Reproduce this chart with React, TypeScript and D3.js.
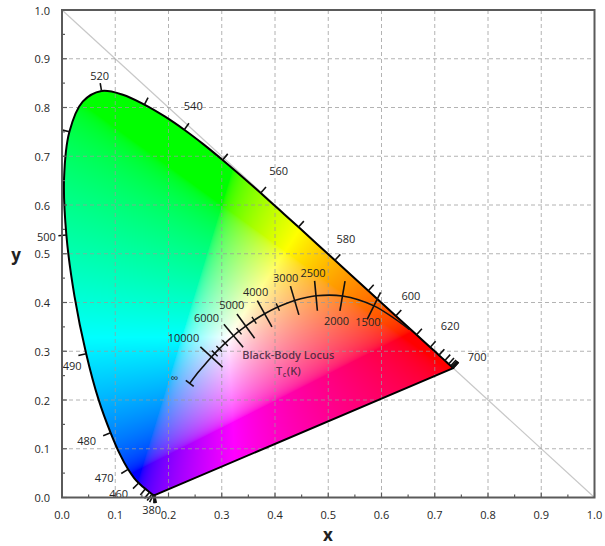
import React, { useMemo } from 'react';
import * as d3 from 'd3';

// CIE 1931 spectral locus (5 nm steps)
const WAVELENGTHS = [380,385,390,395,400,405,410,415,420,425,430,435,440,445,450,455,460,465,470,475,480,485,490,495,500,505,510,515,520,525,530,535,540,545,550,555,560,565,570,575,580,585,590,595,600,605,610,615,620,625,630,635,640,645,650,655,660,665,670,675,680,685,690,695,700];
const LOCUS_X = [0.1741,0.1740,0.1738,0.1736,0.1733,0.1730,0.1726,0.1721,0.1714,0.1703,0.1689,0.1669,0.1644,0.1611,0.1566,0.1510,0.1440,0.1355,0.1241,0.1096,0.0913,0.0687,0.0454,0.0235,0.0082,0.0039,0.0139,0.0389,0.0743,0.1142,0.1547,0.1929,0.2296,0.2658,0.3016,0.3373,0.3731,0.4087,0.4441,0.4788,0.5125,0.5448,0.5752,0.6029,0.6270,0.6482,0.6658,0.6801,0.6915,0.7006,0.7079,0.7140,0.7190,0.7230,0.7260,0.7283,0.7300,0.7311,0.7320,0.7327,0.7334,0.7340,0.7344,0.7346,0.7347];
const LOCUS_Y = [0.0050,0.0050,0.0049,0.0049,0.0048,0.0048,0.0048,0.0048,0.0051,0.0058,0.0069,0.0086,0.0109,0.0138,0.0177,0.0227,0.0297,0.0399,0.0578,0.0868,0.1327,0.2007,0.2950,0.4127,0.5384,0.6548,0.7502,0.8120,0.8338,0.8262,0.8059,0.7816,0.7543,0.7243,0.6923,0.6589,0.6245,0.5896,0.5547,0.5202,0.4866,0.4544,0.4242,0.3965,0.3725,0.3514,0.3340,0.3197,0.3083,0.2993,0.2920,0.2859,0.2809,0.2770,0.2740,0.2717,0.2700,0.2689,0.2680,0.2673,0.2666,0.2660,0.2656,0.2654,0.2653];

const TICK_WL = [380,390,400,410,420,430,440,450,460,470,480,490,500,510,520,530,540,550,560,570,580,590,600,610,620,630,640,650,660,670,680,690,700];
const LABELED_WL = [380,460,470,480,490,500,520,540,560,580,600,620,700];

// Planckian locus
const BB_TEMPS = [1000,1500,2000,2500,3000,3500,4000,4500,5000,5500,6000,6500,7000,7500,8000,9000,10000,12000,15000,20000,Infinity];
const BB_X = [0.6527,0.5857,0.5267,0.4770,0.4369,0.4053,0.3805,0.3608,0.3451,0.3325,0.3221,0.3135,0.3064,0.3004,0.2952,0.2869,0.2807,0.2719,0.2637,0.2565,0.2399];
const BB_Y = [0.3445,0.3931,0.4133,0.4137,0.4041,0.3907,0.3768,0.3636,0.3516,0.3411,0.3318,0.3237,0.3166,0.3103,0.3048,0.2956,0.2883,0.2776,0.2670,0.2577,0.2341];
const BB_MAJOR = [1500,2000,2500,3000,4000,5000,6000,10000];
const BB_MINOR = [3500,4500,5500,7000,8000,9000];
const BB_LABELS = ['1500','2000','2500','3000','4000','5000','6000','10000','∞'];
const BB_LABEL_TEMPS = [1500,2000,2500,3000,4000,5000,6000,10000,Infinity];

const AXIS_TICKS = [0,0.1,0.2,0.3,0.4,0.5,0.6,0.7,0.8,0.9,1.0];
const AXIS_LABELS = ['0.0','0.1','0.2','0.3','0.4','0.5','0.6','0.7','0.8','0.9','1.0'];
const MINOR_TICKS = [0.05,0.15,0.25,0.35,0.45,0.55,0.65,0.75,0.85,0.95];

// label offsets in px (style)
const WL_LABEL_OFFSET: Record<number, [number, number]> = {
  380: [-3, 14], 460: [-20, 10], 470: [-24, 8], 480: [-24, 8], 490: [-14, 12], 500: [-20, 1],
  520: [-2, -16], 540: [9, -24], 560: [18, -23], 580: [11, -22], 600: [15, -20], 620: [20, -22], 700: [24, -12],
};
const BB_LABEL_OFFSET: [number, number][] = [
  [-6, 16], [-6, 24], [-3, -23], [-9, -23], [-9, -22], [-14, -22], [-27, -18], [-28, -19], [-15, -6],
];

const W = 605, H = 546;
const xScale = d3.scaleLinear().domain([0, 1]).range([62, 594.5]);
const yScale = d3.scaleLinear().domain([0, 1]).range([497.5, 10]);
const FONT = '"Open Sans", "Noto Sans", sans-serif';
const LABEL_FILL = '#262626';

function gamma(c: number) {
  return c <= 0.0031308 ? 12.92 * c : 1.055 * Math.pow(c, 1 / 2.4) - 0.055;
}

function makeGamut() {
  const x0 = Math.floor(xScale(0)), x1 = Math.ceil(xScale(0.8));
  const y0 = Math.floor(yScale(0.9)), y1 = Math.ceil(yScale(0));
  const w = x1 - x0, h = y1 - y0;
  const canvas = document.createElement('canvas');
  canvas.width = w; canvas.height = h;
  const ctx = canvas.getContext('2d');
  if (!ctx) return null;
  const img = ctx.createImageData(w, h);
  for (let py = 0; py < h; py++) {
    for (let px = 0; px < w; px++) {
      const cx = xScale.invert(x0 + px + 0.5);
      let cy = yScale.invert(y0 + py + 0.5);
      if (cy < 0.002) cy = 0.002;
      const X = cx / cy, Y = 1, Z = (1 - cx - cy) / cy;
      let r = 3.2406 * X - 1.5372 * Y - 0.4986 * Z;
      let g = -0.9689 * X + 1.8758 * Y + 0.0415 * Z;
      let b = 0.0557 * X - 0.2040 * Y + 1.0570 * Z;
      r = Math.max(0, r); g = Math.max(0, g); b = Math.max(0, b);
      const m = Math.max(r, g, b) || 1;
      const i = (py * w + px) * 4;
      img.data[i] = Math.round(255 * gamma(r / m));
      img.data[i + 1] = Math.round(255 * gamma(g / m));
      img.data[i + 2] = Math.round(255 * gamma(b / m));
      img.data[i + 3] = 255;
    }
  }
  ctx.putImageData(img, 0, 0);
  return { href: canvas.toDataURL(), x: x0, y: y0, w, h };
}

function normalAt(xs: number[], ys: number[], i: number, cx: number, cy: number) {
  const a = Math.max(0, i - 1), b = Math.min(xs.length - 1, i + 1);
  const tx = xScale(xs[b]) - xScale(xs[a]);
  const ty = yScale(ys[b]) - yScale(ys[a]);
  const len = Math.hypot(tx, ty) || 1;
  let nx = -ty / len, ny = tx / len;
  const px = xScale(xs[i]), py = yScale(ys[i]);
  if (nx * (px - cx) + ny * (py - cy) < 0) { nx = -nx; ny = -ny; }
  return { px, py, nx, ny };
}

export default function App() {
  const gamut = useMemo(() => makeGamut(), []);
  const locusPts: [number, number][] = WAVELENGTHS.map((_, i) => [xScale(LOCUS_X[i]), yScale(LOCUS_Y[i])]);
  const locusPath = d3.line().curve(d3.curveCatmullRom.alpha(0.5))(locusPts) + 'Z';
  const bbPts: [number, number][] = BB_TEMPS.map((_, i) => [xScale(BB_X[i]), yScale(BB_Y[i])]);
  const bbPath = d3.line().curve(d3.curveCatmullRom.alpha(0.5))(bbPts) || '';
  const cX = xScale(0.33), cY = yScale(0.33);
  const bbCX = xScale(0.35), bbCY = yScale(0.2);

  const left = xScale(0), right = xScale(1), top = yScale(1), bottom = yScale(0);

  return (
    <svg width={W} height={H} style={{ position: 'absolute', left: 0, top: 0, background: '#fff' }}>
      <defs>
        <clipPath id="locusClip">
          <path d={locusPath} />
        </clipPath>
      </defs>
      {/* diagonal x + y = 1 */}
      <line x1={xScale(0)} y1={yScale(1)} x2={xScale(1)} y2={yScale(0)} stroke="#c8c8c8" strokeWidth={1.2} />
      {gamut && (
        <image href={gamut.href} x={gamut.x} y={gamut.y} width={gamut.w} height={gamut.h}
          clipPath="url(#locusClip)" preserveAspectRatio="none" />
      )}
      {/* grid */}
      <g stroke="#9a9a9a" strokeOpacity={0.75} strokeDasharray="4,3" strokeWidth={1}>
        {AXIS_TICKS.slice(1, -1).map((t) => (
          <line key={'gx' + t} x1={xScale(t)} x2={xScale(t)} y1={top} y2={bottom} />
        ))}
        {AXIS_TICKS.slice(1, -1).map((t) => (
          <line key={'gy' + t} x1={left} x2={right} y1={yScale(t)} y2={yScale(t)} />
        ))}
      </g>
      {/* spectral locus */}
      <path d={locusPath} fill="none" stroke="#000" strokeWidth={2} strokeLinejoin="round" />
      {TICK_WL.map((wl) => {
        const i = WAVELENGTHS.indexOf(wl);
        const n = normalAt(LOCUS_X, LOCUS_Y, i, cX, cY);
        return (
          <line key={'wt' + wl} x1={n.px} y1={n.py} x2={n.px + n.nx * 8} y2={n.py + n.ny * 8}
            stroke="#111" strokeWidth={1.6} />
        );
      })}
      {LABELED_WL.map((wl) => {
        const i = WAVELENGTHS.indexOf(wl);
        const o = WL_LABEL_OFFSET[wl];
        return (
          <text key={'wl' + wl} x={xScale(LOCUS_X[i]) + o[0]} y={yScale(LOCUS_Y[i]) + o[1]}
            textAnchor="middle" dominantBaseline="central" fontFamily={FONT} fontSize={11} fill={LABEL_FILL}>
            {wl}
          </text>
        );
      })}
      {/* black body locus */}
      <path d={bbPath} fill="none" stroke="#111" strokeWidth={1.6} />
      {BB_MAJOR.map((t) => {
        const i = BB_TEMPS.indexOf(t);
        const n = normalAt(BB_X, BB_Y, i, bbCX, bbCY);
        return (
          <line key={'bbM' + t} x1={n.px - n.nx * 15} y1={n.py - n.ny * 15} x2={n.px + n.nx * 15} y2={n.py + n.ny * 15}
            stroke="#111" strokeWidth={1.6} />
        );
      })}
      {BB_MINOR.map((t) => {
        const i = BB_TEMPS.indexOf(t);
        const n = normalAt(BB_X, BB_Y, i, bbCX, bbCY);
        return (
          <line key={'bbm' + t} x1={n.px - n.nx * 4} y1={n.py - n.ny * 4} x2={n.px + n.nx * 4} y2={n.py + n.ny * 4}
            stroke="#111" strokeWidth={1.4} />
        );
      })}
      {(() => {
        const i = BB_TEMPS.length - 1;
        const n = normalAt(BB_X, BB_Y, i, bbCX, bbCY);
        return (
          <line x1={n.px - n.nx * 5} y1={n.py - n.ny * 5} x2={n.px + n.nx * 5} y2={n.py + n.ny * 5}
            stroke="#111" strokeWidth={1.6} />
        );
      })()}
      {BB_LABEL_TEMPS.map((t, k) => {
        const i = BB_TEMPS.indexOf(t);
        const o = BB_LABEL_OFFSET[k];
        return (
          <text key={'bbl' + k} x={xScale(BB_X[i]) + o[0]} y={yScale(BB_Y[i]) + o[1]}
            textAnchor="middle" dominantBaseline="central" fontFamily={FONT} fontSize={11} fill={LABEL_FILL}>
            {BB_LABELS[k]}
          </text>
        );
      })}
      <text x={xScale(0.425)} y={359} textAnchor="middle"
        fontFamily={FONT} fontSize={11} fontWeight={600} fill="#3a2438" fillOpacity={0.85}>
        Black-Body Locus
      </text>
      <text x={xScale(0.425)} y={375} textAnchor="middle"
        fontFamily={FONT} fontSize={11} fontWeight={600} fill="#3a2438" fillOpacity={0.85}>
        T<tspan fontSize={7} dx={0.5} dy={2}>c</tspan><tspan dx={0.5} dy={-2}>(K)</tspan>
      </text>
      {/* axes frame */}
      <rect x={left} y={top} width={right - left} height={bottom - top} fill="none" stroke="#5a5a5a" strokeWidth={2} />
      {/* ticks */}
      <g stroke="#5a5a5a" strokeWidth={1.2}>
        {AXIS_TICKS.map((t) => (
          <line key={'tx' + t} x1={xScale(t)} x2={xScale(t)} y1={bottom} y2={bottom - 5} />
        ))}
        {MINOR_TICKS.map((t) => (
          <line key={'mx' + t} x1={xScale(t)} x2={xScale(t)} y1={bottom} y2={bottom - 3} />
        ))}
        {AXIS_TICKS.map((t) => (
          <line key={'ty' + t} x1={left} x2={left + 5} y1={yScale(t)} y2={yScale(t)} />
        ))}
        {MINOR_TICKS.map((t) => (
          <line key={'my' + t} x1={left} x2={left + 3} y1={yScale(t)} y2={yScale(t)} />
        ))}
      </g>
      {AXIS_TICKS.map((t, k) => (
        <text key={'lx' + t} x={xScale(t)} y={514} textAnchor="middle" dominantBaseline="central"
          fontFamily={FONT} fontSize={11} fill={LABEL_FILL}>{AXIS_LABELS[k]}</text>
      ))}
      {AXIS_TICKS.map((t, k) => (
        <text key={'ly' + t} x={50} y={yScale(t)} textAnchor="end" dominantBaseline="central"
          fontFamily={FONT} fontSize={11} fill={LABEL_FILL}>{AXIS_LABELS[k]}</text>
      ))}
      <text x={328} y={541} textAnchor="middle" fontFamily={FONT}
        fontSize={17} fontWeight={700} fill="#222">x</text>
      <text x={16} y={261} textAnchor="middle" fontFamily={FONT}
        fontSize={17} fontWeight={700} fill="#222">y</text>
    </svg>
  );
}
